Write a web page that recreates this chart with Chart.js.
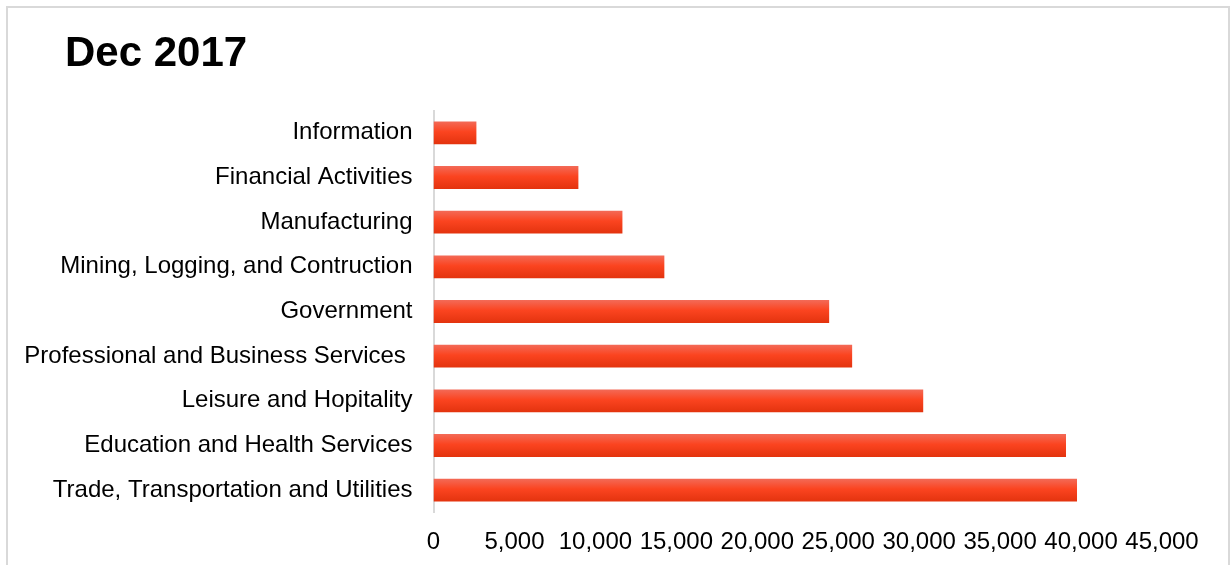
<!DOCTYPE html>
<html>
<head>
<meta charset="utf-8">
<script src="https://cdn.jsdelivr.net/npm/chart.js@4/dist/chart.umd.min.js"></script>
<style>
    html, body { margin: 0; padding: 0; background: #ffffff; }
    #wrap { position: relative; width: 1230px; height: 565px; overflow: hidden; }
    #frame {
        position: absolute; left: 6px; top: 6px; width: 1224px; height: 620px;
        box-sizing: border-box; border: 2px solid #d9d9d9; pointer-events: none;
    }
    #title {
        position: absolute; left: 65px; top: 31px; margin: 0;
        font: bold 42px "Liberation Sans", Arial, sans-serif; line-height: 42px; color: #000;
    }
    #salesChart { position: absolute; left: 0; top: 0; }
</style>
</head>
<body>
<div id="wrap">
    <canvas id="salesChart" width="1230" height="565"></canvas>
    <div id="frame"></div>
    <div id="title">Dec 2017</div>
</div>
<script>
    // employment by sector, Dec 2017
    var categories = [
        'Information',
        'Financial Activities',
        'Manufacturing',
        'Mining, Logging, and Contruction',
        'Government',
        'Professional and Business Services ',
        'Leisure and Hopitality',
        'Education and Health Services',
        'Trade, Transportation and Utilities'
    ];
    var jobs = [2650, 8950, 11670, 14260, 24440, 25860, 30250, 39070, 39750];
    var xTicks = [0, 5000, 10000, 15000, 20000, 25000, 30000, 35000, 40000, 45000];

    var barShare = 0.51;

    // vertical shading on every bar: light top, bright middle, darker bottom
    var barFill = function (ctx) {
        var chart = ctx.chart;
        var yScale = chart.scales.y;
        if (!yScale || !chart.chartArea || ctx.dataIndex === undefined) {
            return '#f94420';
        }
        var center = yScale.getPixelForValue(ctx.dataIndex);
        var pitch = Math.abs(yScale.getPixelForValue(1) - yScale.getPixelForValue(0));
        var half = pitch * barShare / 2;
        var g = chart.ctx.createLinearGradient(0, center - half, 0, center + half);
        g.addColorStop(0, '#f36a57');
        g.addColorStop(0.45, '#fb4420');
        g.addColorStop(1, '#e3330e');
        return g;
    };

    var labelFont = { family: '"Liberation Sans", Arial, sans-serif', size: 24 };

    new Chart(document.getElementById('salesChart'), {
        type: 'bar',
        data: {
            labels: categories,
            datasets: [{
                label: 'Dec 2017',
                data: jobs,
                backgroundColor: barFill,
                borderWidth: 0,
                barPercentage: barShare,
                categoryPercentage: 1
            }]
        },
        options: {
            indexAxis: 'y',
            responsive: false,
            animation: false,
            layout: {
                padding: { top: 110.5, right: 68, bottom: 0, left: 0 }
            },
            plugins: {
                legend: { display: false },
                title: { display: false },
                tooltip: { enabled: false }
            },
            scales: {
                x: {
                    min: xTicks[0],
                    max: xTicks[xTicks.length - 1],
                    afterBuildTicks: function (scale) {
                        scale.ticks = xTicks.map(function (v) { return { value: v }; });
                    },
                    afterFit: function (scale) {
                        scale.height = 52.5;
                    },
                    grid: { display: false, drawTicks: false },
                    border: { display: false },
                    ticks: {
                        autoSkip: false,
                        maxRotation: 0,
                        padding: 15,
                        color: '#000',
                        font: labelFont,
                        callback: function (v) {
                            return Number(v).toLocaleString('en-US');
                        }
                    }
                },
                y: {
                    afterFit: function (scale) {
                        scale.width = 433.5;
                    },
                    grid: { display: false, drawTicks: false },
                    border: { display: true, color: '#d9d9d9', width: 2 },
                    ticks: {
                        padding: 21,
                        color: '#000',
                        font: labelFont
                    }
                }
            }
        }
    });
</script>
</body>
</html>
